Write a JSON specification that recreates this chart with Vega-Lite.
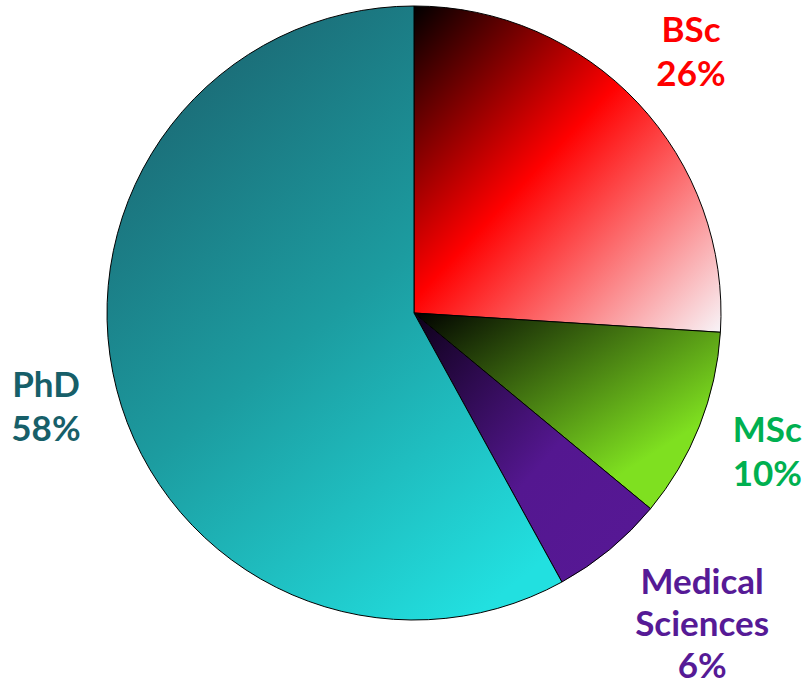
{
  "$schema": "https://vega.github.io/schema/vega-lite/v6.json",
  "width": 784,
  "height": 626,
  "autosize": "none",
  "padding": {"left": 22, "top": 0, "right": 0, "bottom": 60},
  "background": "white",
  "config": {"view": {"stroke": null}},
  "data": {
    "values": [
      {"order": 1, "cat": "BSc", "pct": 26, "label": "BSc\n26%"},
      {"order": 2, "cat": "MSc", "pct": 10, "label": "MSc\n10%"},
      {"order": 3, "cat": "Medical Sciences", "pct": 6, "label": "Medical\nSciences\n6%"},
      {"order": 4, "cat": "PhD", "pct": 58, "label": "PhD\n58%"}
    ]
  },
  "encoding": {
    "theta": {"field": "pct", "type": "quantitative", "stack": true},
    "order": {"field": "order", "type": "quantitative"}
  },
  "layer": [
    {
      "mark": {"type": "arc", "outerRadius": 307, "stroke": "#000000", "strokeWidth": 1},
      "encoding": {
        "detail": {"field": "cat"},
        "fill": {
          "condition": [
            {"test": "datum.cat === 'BSc'", "value": {"gradient": "linear", "x1": 0, "y1": 0, "x2": 1, "y2": 1, "stops": [{"offset": 0, "color": "#000000"}, {"offset": 0.45, "color": "#ff0000"}, {"offset": 1, "color": "#f8f4f8"}]}},
            {"test": "datum.cat === 'MSc'", "value": {"gradient": "linear", "x1": 0, "y1": 0, "x2": 1, "y2": 1, "stops": [{"offset": 0, "color": "#000000"}, {"offset": 0.75, "color": "#7fe020"}, {"offset": 1, "color": "#7fe020"}]}},
            {"test": "datum.cat === 'Medical Sciences'", "value": {"gradient": "linear", "x1": 0, "y1": 0, "x2": 1, "y2": 1, "stops": [{"offset": 0, "color": "#0d0018"}, {"offset": 0.55, "color": "#541790"}, {"offset": 1, "color": "#571896"}]}}
          ],
          "value": {"gradient": "linear", "x1": 0.2, "y1": 0, "x2": 0.8, "y2": 1, "stops": [{"offset": 0, "color": "#1b6470"}, {"offset": 0.5, "color": "#1c9ca0"}, {"offset": 1, "color": "#22e0e0"}]}
        }
      }
    },
    {
      "mark": {"type": "text", "radius": 380, "dy": -22, "lineBreak": "\n", "font": "Lato", "fontWeight": "bold", "fontSize": 35, "lineHeight": 44, "align": "center", "baseline": "middle"},
      "encoding": {
        "detail": {"field": "cat"},
        "text": {"condition": {"test": "datum.cat === 'Medical Sciences'", "value": ""}, "field": "label"},
        "color": {"field": "cat", "type": "nominal", "legend": null, "scale": {"domain": ["BSc", "MSc", "Medical Sciences", "PhD"], "range": ["#ff0000", "#00b050", "#561a96", "#175f69"]}}
      }
    },
    {
      "mark": {"type": "text", "radius": 405, "dx": 30, "dy": -42, "lineBreak": "\n", "font": "Lato", "fontWeight": "bold", "fontSize": 35, "lineHeight": 42, "align": "center", "baseline": "middle"},
      "encoding": {
        "detail": {"field": "cat"},
        "text": {"condition": {"test": "datum.cat !== 'Medical Sciences'", "value": ""}, "field": "label"},
        "color": {"field": "cat", "type": "nominal", "legend": null, "scale": {"domain": ["BSc", "MSc", "Medical Sciences", "PhD"], "range": ["#ff0000", "#00b050", "#561a96", "#175f69"]}}
      }
    }
  ]
}
